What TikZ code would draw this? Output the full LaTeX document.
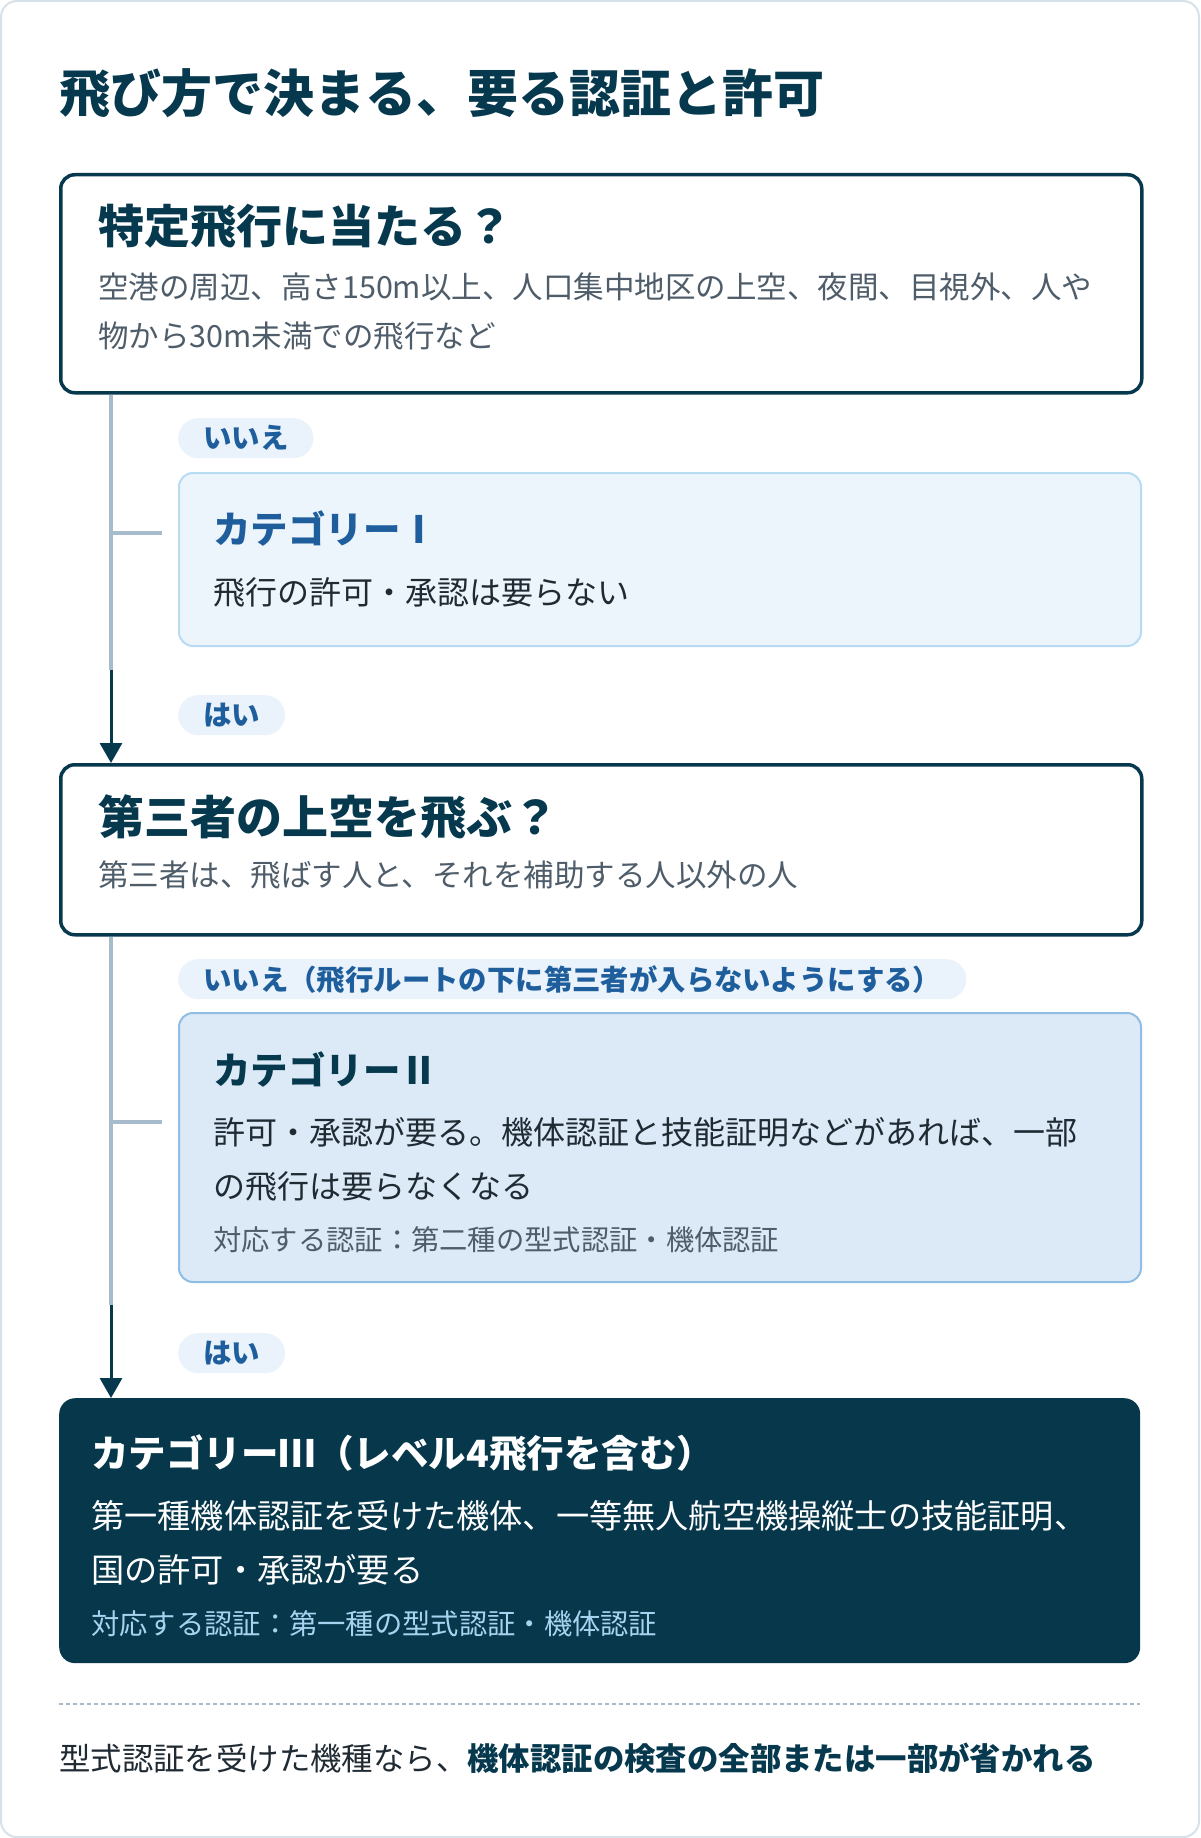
\documentclass[tikz,border=0pt]{standalone}
\usepackage{fontspec}
\setmainfont{Noto Sans CJK JP}
\usetikzlibrary{arrows.meta}
\definecolor{navy}{HTML}{06394E}
\definecolor{grytxt}{HTML}{4E5D69}
\definecolor{bodytxt}{HTML}{1F2A33}
\definecolor{bluetxt}{HTML}{1F5E9C}
\definecolor{pillfill}{HTML}{EAF3FB}
\definecolor{catAfill}{HTML}{EDF5FC}
\definecolor{catAline}{HTML}{B8DBF4}
\definecolor{catBfill}{HTML}{DCEAF7}
\definecolor{catBline}{HTML}{8FBDE3}
\definecolor{catCfill}{HTML}{06374B}
\definecolor{certblue}{HTML}{A8D3F0}
\definecolor{connline}{HTML}{A6BCCB}
\definecolor{cardline}{HTML}{D6E1E9}
\newcommand\fsz[1]{\fontsize{#1}{#1}\selectfont}
\begin{document}
\begin{tikzpicture}[x=1pt,y=-1pt,
  txt/.style={anchor=west,inner sep=0pt},
  boxq/.style={draw=navy,line width=3.5pt,fill=white,rounded corners=14pt,anchor=north west,inner sep=0pt},
  boxa/.style={draw=catAline,line width=2pt,fill=catAfill,rounded corners=14pt,anchor=north west,inner sep=0pt},
  boxb/.style={draw=catBline,line width=2pt,fill=catBfill,rounded corners=14pt,anchor=north west,inner sep=0pt},
  boxc/.style={fill=catCfill,rounded corners=16pt,anchor=north west,inner sep=0pt},
  pill/.style={fill=pillfill,rounded corners=20pt,anchor=north west,minimum height=40pt,inner ysep=0pt,inner xsep=25pt,font=\fsz{28.4}\bfseries,text=bluetxt},
  grayline/.style={draw=connline,line width=4pt},
  darkarrow/.style={draw=navy,line width=3pt,-{Triangle[width=22pt,length=20pt]}},
  qtitle/.style={txt,font=\fsz{46}\bfseries,text=navy},
  qbody/.style={txt,font=\fsz{30.5},text=grytxt},
  cattitle/.style={txt,font=\fsz{37.5}\bfseries},
  catbody/.style={txt,font=\fsz{32},text=bodytxt},
  certtxt/.style={txt,font=\fsz{28.3},text=grytxt}
]
\useasboundingbox (0,0) rectangle (1200,1838);
\draw[draw=cardline,line width=2pt,fill=white,rounded corners=16pt] (1,1) rectangle (1199,1837);

\node[txt,font=\fsz{51}\bfseries,text=navy] (title) at (59,93) {飛び方で決まる、要る認証と許可};

% question 1
\node[boxq,minimum width=1081pt,minimum height=218pt] (q1) at (59,173) {};
\node[qtitle] (q1t) at (98,226) {特定飛行に当たる？};
\node[qbody] (q1b1) at (98,287) {空港の周辺、高さ150m以上、人口集中地区の上空、夜間、目視外、人や};
\node[qbody] (q1b2) at (98,336) {物から30m未満での飛行など};

% no 1
\node[pill] (p1) at (178,418) {いいえ};
\node[boxa,minimum width=962pt,minimum height=173pt] (c1) at (178,472) {};
\node[cattitle,text=bluetxt] (c1t) at (213,528) {カテゴリーⅠ};
\node[catbody] (c1b) at (213,592) {飛行の許可・承認は要らない};

% yes 1
\node[pill] (p2) at (178,695) {はい};

% question 2
\node[boxq,minimum width=1081pt,minimum height=170pt] (q2) at (59,763) {};
\node[qtitle] (q2t) at (98,817) {第三者の上空を飛ぶ？};
\node[qbody] (q2b) at (98,875) {第三者は、飛ばす人と、それを補助する人以外の人};

% no 2
\node[pill] (p3) at (178,959) {いいえ（飛行ルートの下に第三者が入らないようにする）};
\node[boxb,minimum width=962pt,minimum height=269pt] (c2) at (178,1012) {};
\node[cattitle,text=navy] (c2t) at (213,1069) {カテゴリーⅡ};
\node[catbody] (c2b1) at (213,1132) {許可・承認が要る。機体認証と技能証明などがあれば、一部};
\node[catbody] (c2b2) at (213,1186) {の飛行は要らなくなる};
\node[certtxt] (c2c) at (213,1240) {対応する認証：第二種の型式認証・機体認証};

% yes 2
\node[pill] (p4) at (178,1333) {はい};

% category III
\node[boxc,minimum width=1081pt,minimum height=265pt] (c3) at (59,1398) {};
\node[cattitle,text=white] (c3t) at (91,1453) {カテゴリーⅢ（レベル4飛行を含む）};
\node[catbody,text=white,font=\fsz{33.2}] (c3b1) at (91,1516) {第一種機体認証を受けた機体、一等無人航空機操縦士の技能証明、};
\node[catbody,text=white,font=\fsz{33.2}] (c3b2) at (91,1570) {国の許可・承認が要る};
\node[certtxt,text=certblue] (c3c) at (91,1624) {対応する認証：第一種の型式認証・機体認証};

% connectors
\coordinate (j1) at (111,670);
\coordinate (j2) at (111,1305);
\coordinate (t1) at (162,533);
\coordinate (t2) at (162,1122);
\draw[grayline] (q1.south -| j1) -- (j1);
\draw[darkarrow] (j1) -- (q2.north -| j1);
\draw[grayline] (t1 -| j1) -- (t1);
\draw[grayline] (q2.south -| j2) -- (j2);
\draw[darkarrow] (j2) -- (c3.north -| j2);
\draw[grayline] (t2 -| j2) -- (t2);

% footer
\coordinate (d1) at (59,1704);
\coordinate (d2) at (1140,1704);
\draw[draw=connline,line width=2pt,dash pattern=on 4pt off 3pt] (d1) -- (d2);
\node[txt,font=\fsz{31.4},text=bodytxt] (foot) at (59,1758) {型式認証を受けた機種なら、{\bfseries\color{navy}機体認証の検査の全部または一部が省かれる}};
\end{tikzpicture}
\end{document}
